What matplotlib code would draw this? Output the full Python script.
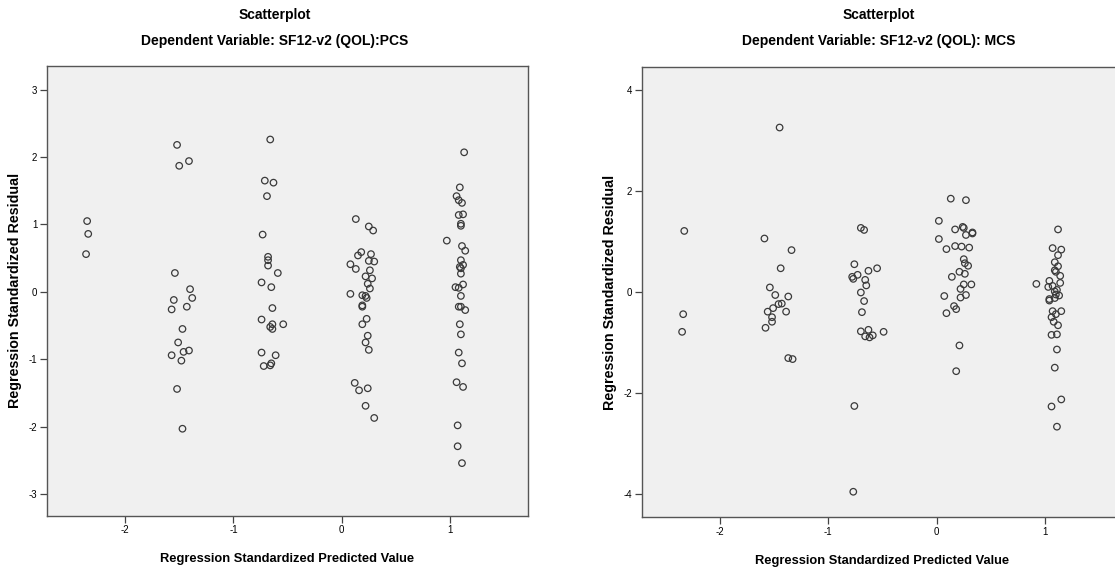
import matplotlib
matplotlib.use("Agg")
import matplotlib.pyplot as plt

plt.rcParams["axes.unicode_minus"] = False
FONT = ["Liberation Sans", "DejaVu Sans"]

# PCS model: standardized predicted value vs standardized residual
pcs_x = [-2.35, -2.34, -2.36,
         -1.52, -1.50, -1.41, -1.54, -1.40, -1.38, -1.55, -1.57, -1.43, -1.47,
         -1.51, -1.57, -1.46, -1.41, -1.48, -1.52, -1.47,
         -0.66, -0.71, -0.63, -0.69, -0.73, -0.68, -0.68, -0.68, -0.59, -0.74,
         -0.65, -0.64, -0.74, -0.64, -0.66, -0.64, -0.54, -0.74, -0.61, -0.72,
         -0.66, -0.65,
         0.13, 0.25, 0.29, 0.18, 0.15, 0.27, 0.08, 0.13, 0.25, 0.30, 0.26, 0.22,
         0.28, 0.24, 0.26, 0.08, 0.19, 0.22, 0.23, 0.19, 0.19, 0.23, 0.19, 0.24,
         0.22, 0.25, 0.12, 0.16, 0.24, 0.22, 0.30,
         1.13, 1.09, 1.06, 1.08, 1.11, 1.08, 1.12, 1.10, 1.10, 0.97, 1.11, 1.14,
         1.10, 1.12, 1.09, 1.10, 1.10, 1.12, 1.05, 1.08, 1.10, 1.08, 1.10, 1.14,
         1.09, 1.10, 1.08, 1.11, 1.06, 1.12, 1.07, 1.07, 1.11]
pcs_y = [1.05, 0.86, 0.56,
         2.18, 1.87, 1.94, 0.28, 0.04, -0.09, -0.12, -0.26, -0.22, -0.55,
         -0.75, -0.94, -0.89, -0.87, -1.02, -1.44, -2.03,
         2.26, 1.65, 1.62, 1.42, 0.85, 0.52, 0.47, 0.39, 0.28, 0.14,
         0.07, -0.24, -0.41, -0.48, -0.52, -0.55, -0.48, -0.90, -0.94, -1.10,
         -1.09, -1.06,
         1.08, 0.97, 0.91, 0.59, 0.54, 0.56, 0.41, 0.34, 0.46, 0.45, 0.32, 0.23,
         0.20, 0.12, 0.05, -0.03, -0.05, -0.06, -0.09, -0.20, -0.22, -0.40, -0.48, -0.65,
         -0.75, -0.86, -1.35, -1.46, -1.43, -1.69, -1.87,
         2.07, 1.55, 1.42, 1.36, 1.32, 1.14, 1.15, 1.01, 0.98, 0.76, 0.68, 0.61,
         0.47, 0.40, 0.37, 0.35, 0.27, 0.11, 0.07, 0.06, -0.06, -0.22, -0.22, -0.27,
         -0.48, -0.63, -0.90, -1.06, -1.34, -1.41, -1.98, -2.29, -2.54]

# MCS model
mcs_x = [-2.33, -2.34, -2.35,
         -1.45, -1.59, -1.34, -1.44, -1.54, -1.49, -1.37, -1.43, -1.46, -1.51,
         -1.56, -1.39, -1.52, -1.52, -1.58, -1.37, -1.33,
         -0.70, -0.67, -0.76, -0.63, -0.55, -0.73, -0.78, -0.77, -0.66, -0.65,
         -0.70, -0.67, -0.69, -0.70, -0.63, -0.66, -0.62, -0.59, -0.49, -0.76, -0.77,
         0.13, 0.27, 0.02, 0.17, 0.24, 0.25, 0.27, 0.33, 0.33, 0.02, 0.09, 0.17,
         0.23, 0.30, 0.25, 0.26, 0.29, 0.21, 0.26, 0.14, 0.32, 0.25, 0.22, 0.07,
         0.27, 0.22, 0.16, 0.18, 0.09, 0.21, 0.18,
         1.12, 1.07, 1.15, 1.12, 1.09, 1.12, 1.09, 1.10, 1.14, 0.92, 1.04, 1.14,
         1.03, 1.07, 1.11, 1.09, 1.13, 1.04, 1.09, 1.10, 1.04, 1.07, 1.15, 1.10,
         1.06, 1.08, 1.12, 1.06, 1.11, 1.11, 1.09, 1.15, 1.06, 1.11]
mcs_y = [1.21, -0.44, -0.79,
         3.26, 1.06, 0.83, 0.47, 0.09, -0.06, -0.09, -0.23, -0.24, -0.32,
         -0.39, -0.39, -0.50, -0.59, -0.71, -1.31, -1.33,
         1.27, 1.23, 0.55, 0.42, 0.47, 0.34, 0.30, 0.26, 0.24, 0.13,
         -0.01, -0.18, -0.40, -0.78, -0.75, -0.88, -0.90, -0.86, -0.79, -2.26, -3.96,
         1.85, 1.82, 1.41, 1.24, 1.29, 1.27, 1.13, 1.18, 1.16, 1.05, 0.85, 0.91,
         0.90, 0.88, 0.65, 0.57, 0.52, 0.40, 0.36, 0.30, 0.15, 0.15, 0.06, -0.08,
         -0.06, -0.11, -0.28, -0.34, -0.42, -1.06, -1.57,
         1.24, 0.87, 0.84, 0.73, 0.59, 0.51, 0.43, 0.40, 0.32, 0.16, 0.22, 0.18,
         0.10, 0.12, 0.04, 0.01, -0.07, -0.14, -0.12, -0.05, -0.17, -0.38, -0.38, -0.44,
         -0.50, -0.59, -0.66, -0.85, -0.84, -1.14, -1.50, -2.13, -2.27, -2.67]

x_ticks = [-2, -1, 0, 1]
pcs_yticks = [-3, -2, -1, 0, 1, 2, 3]
mcs_yticks = [-4, -2, 0, 2, 4]

fig = plt.figure(figsize=(11.15, 5.75), dpi=100)

panels = [
    ([0.0422, 0.1031, 0.4314, 0.7821], pcs_x, pcs_y, pcs_yticks, (-3.32, 3.35),
     "Dependent Variable: SF12-v2 (QOL):PCS", 0.246),
    ([0.5758, 0.1009, 0.4314, 0.7826], mcs_x, mcs_y, mcs_yticks, (-4.46, 4.46),
     "Dependent Variable: SF12-v2 (QOL): MCS", 0.788),
]

for rect, xs, ys, yt, ylim, sub, tx in panels:
    ax = fig.add_axes(rect)
    ax.set_facecolor("#f0f0f0")
    ax.scatter(xs, ys, s=22, facecolors="none", edgecolors="#3a3a3a",
               linewidths=0.9, zorder=3)
    ax.set_xlim(-2.72, 1.72)
    ax.set_ylim(*ylim)
    ax.set_xticks(x_ticks)
    ax.set_yticks(yt)
    ax.tick_params(direction="out", length=5, width=0.9, color="#444444",
                   labelsize=7, pad=2)
    for lab in ax.get_xticklabels() + ax.get_yticklabels():
        lab.set_family(FONT)
    for sp in ax.spines.values():
        sp.set_color("#555555")
        sp.set_linewidth(1.0)
    ax.set_xlabel("Regression Standardized Predicted Value", family=FONT,
                  fontsize=9.3, fontweight="bold", labelpad=13)
    ax.set_ylabel("Regression Standardized Residual", family=FONT,
                  fontsize=10.3, fontweight="bold", labelpad=5)
    fig.text(tx, 0.974, "Scatterplot", family=FONT, fontsize=10,
             fontweight="bold", ha="center", va="center")
    fig.text(tx, 0.929, sub, family=FONT, fontsize=10,
             fontweight="bold", ha="center", va="center")

fig.savefig("out.png", dpi=100)
